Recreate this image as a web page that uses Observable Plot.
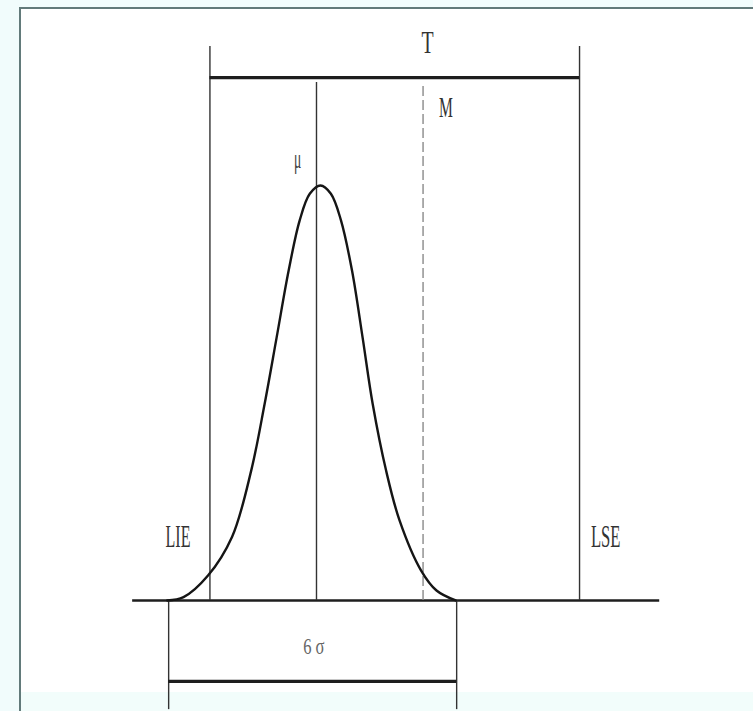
<!DOCTYPE html>
<html>
<head>
<meta charset="utf-8">
<script src="https://cdn.jsdelivr.net/npm/d3@7"></script>
<script src="https://cdn.jsdelivr.net/npm/@observablehq/plot@0.6"></script>
<style>
  html, body { margin: 0; padding: 0; background: #f1fcfc; }
  #wrap { position: relative; width: 753px; height: 711px; overflow: hidden; }
  #panel { position: absolute; left: 19px; top: 7px; width: 760px; height: 720px;
           border-left: 2px solid #627a7a; border-top: 2px solid #627a7a;
           background: linear-gradient(#ffffff 0, #ffffff 683px, #f2fdfb 683px); }
  #chart { position: absolute; left: 0; top: 0; }
</style>
</head>
<body>
<div id="wrap"><div id="panel"></div><div id="chart"></div></div>
<script>
// x in sigma units (mu = 0), y as density relative to the peak (peak = 1)
const mu = 0;
const curveX = [-3.11, -2.77, -2.26, -1.76, -1.36, -1.08, -0.83, -0.58, -0.35, -0.14, 0.083,
                0.30, 0.51, 0.74, 0.96, 1.17, 1.45, 1.73, 2.18, 2.50, 2.90];
const curveY = [0, 0.008, 0.060, 0.153, 0.313, 0.474, 0.634, 0.795, 0.916, 0.980, 1.0,
                0.980, 0.916, 0.795, 0.634, 0.474, 0.313, 0.193, 0.072, 0.024, 0];
const limitNames = ["LIE", "LSE"];
const limitX = [-2.22, 5.48];
const targetM = 2.22;
const sixSigmaX = [-3.08, 2.92];
const baselineExtent = [-3.83, 7.15];
// vertical extents of the construction lines (same y units)
const limitTop = 1.335, toleranceBarY = 1.26, muTop = 1.248, mTop = 1.241;
const sixSigmaBarY = -0.195, sixSigmaBottom = -0.263;
// annotation labels
const labelText = ["T", "M", "μ", "LIE", "LSE", "6 σ"];
const labelX = [2.31, 2.69, -0.40, -2.89, 6.02, -0.06];
const labelY = [1.345, 1.188, 1.062, 0.153, 0.153, -0.111];

const curve = curveX.map((x, i) => ({x, y: curveY[i]}));
const labels = labelText.map((t, i) => ({t, x: labelX[i], y: labelY[i]}));
const labelStyle = {
  "T":   {size: 32, sx: 0.62, fill: "#333"},
  "M":   {size: 30, sx: 0.52, fill: "#333"},
  "μ":   {size: 27, sx: 0.5,  fill: "#3c3c3c"},
  "LIE": {size: 32, sx: 0.5,  fill: "#333"},
  "LSE": {size: 32, sx: 0.52, fill: "#333"},
  "6 σ": {size: 23, sx: 0.72, fill: "#666"}
};

const plot = Plot.plot({
  width: 753, height: 711,
  marginLeft: 0, marginRight: 0, marginTop: 0, marginBottom: 0,
  style: {background: "transparent", overflow: "visible"},
  x: {domain: [-6.583, 9.104], axis: null},
  y: {domain: [-0.2675, 1.4458], axis: null},
  marks: [
    Plot.ruleY([0], {x1: baselineExtent[0], x2: baselineExtent[1], stroke: "#1e1e1e", strokeWidth: 2.6}),
    Plot.ruleX(limitX, {x: d => d, y1: 0, y2: limitTop, stroke: "#333", strokeWidth: 1.4}),
    Plot.ruleY([toleranceBarY], {x1: limitX[0], x2: limitX[1], stroke: "#1e1e1e", strokeWidth: 3.2}),
    Plot.ruleX([mu], {y1: 0, y2: muTop, stroke: "#333", strokeWidth: 1.4}),
    Plot.ruleX([targetM], {y1: 0, y2: mTop, stroke: "#8a8a8a", strokeWidth: 1.4, strokeDasharray: "10,4"}),
    Plot.ruleX(sixSigmaX, {x: d => d, y1: 0, y2: sixSigmaBottom, stroke: "#333", strokeWidth: 1.4}),
    Plot.ruleY([sixSigmaBarY], {x1: sixSigmaX[0], x2: sixSigmaX[1], stroke: "#1e1e1e", strokeWidth: 3.2}),
    Plot.line(curve, {x: "x", y: "y", curve: "catmull-rom", stroke: "#151515", strokeWidth: 2.4}),
    Plot.text(labels, {x: "x", y: "y", text: "t", fontFamily: "Liberation Serif", fontSize: d => labelStyle[d.t].size,
                       fill: d => labelStyle[d.t].fill, textAnchor: "middle"})
  ]
});

document.getElementById("chart").appendChild(plot);

// horizontally condense the labels (narrow typeface in the original): wrap each text in a scaled group
const svgRect = plot.getBoundingClientRect();
plot.querySelectorAll('g[aria-label="text"] text').forEach((t, i) => {
  const s = labelStyle[labels[i].t];
  const r = t.getBoundingClientRect();
  const cx = r.left + r.width / 2 - svgRect.left;
  const g = document.createElementNS("http://www.w3.org/2000/svg", "g");
  g.setAttribute("transform", `translate(${cx},0) scale(${s.sx},1) translate(${-cx},0)`);
  t.parentNode.insertBefore(g, t);
  g.appendChild(t);
});
</script>
</body>
</html>
